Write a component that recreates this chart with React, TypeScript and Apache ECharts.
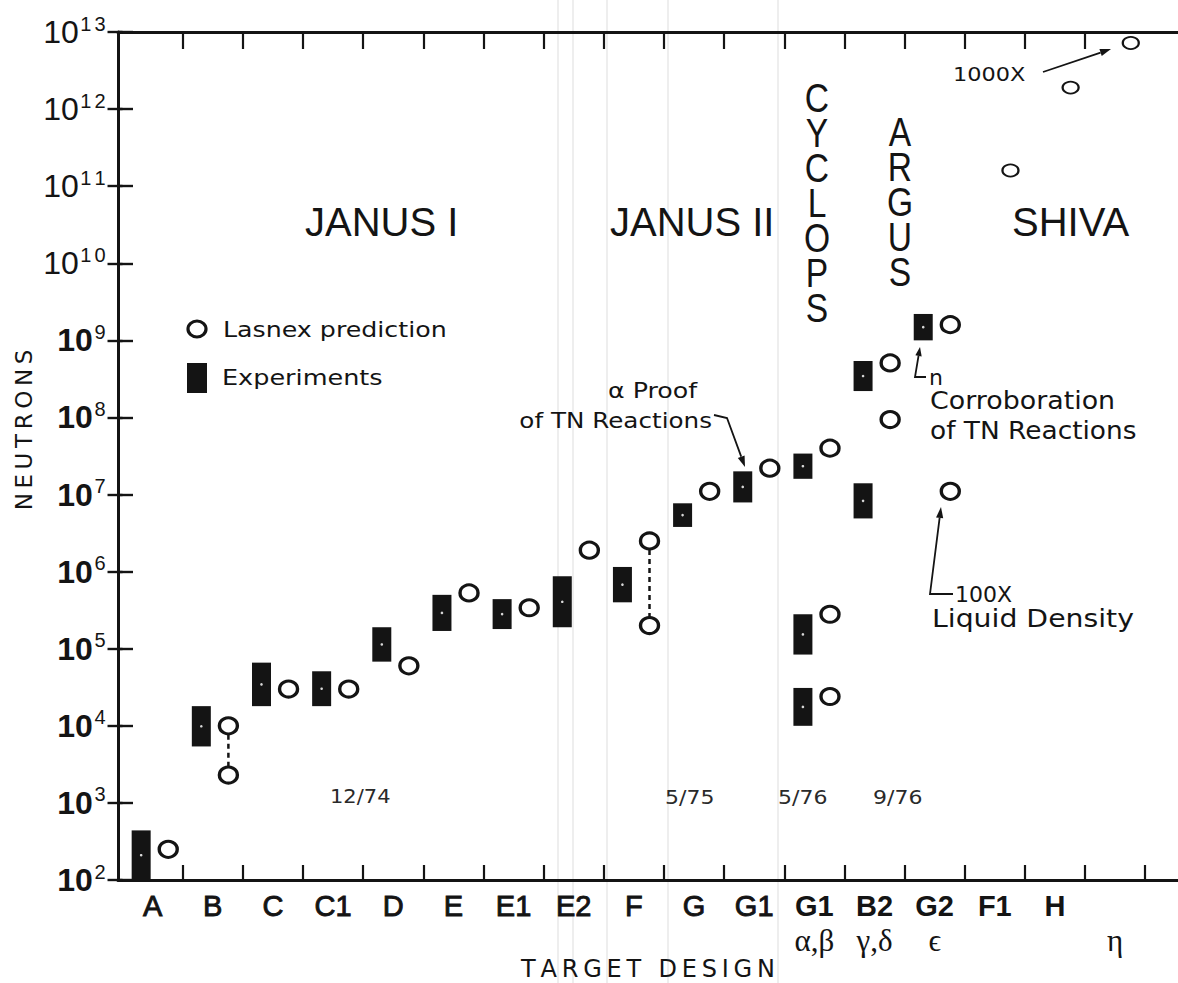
import React, { useEffect, useRef } from 'react';
import * as echarts from 'echarts';

// Target designs along the horizontal axis (one slot each)
const categories = ['A', 'B', 'C', 'C1', 'D', 'E', 'E1', 'E2', 'F', 'G', 'G1', 'G1', 'B2', 'G2', 'F1', 'H', ''];
const subLabels = ['', '', '', '', '', '', '', '', '', '', '', 'α,β', 'γ,δ', 'ϵ', '', '', 'η'];
const heavyLabelFrom = 11;

// Decades of the neutron-yield axis
const decades = [1e2, 1e3, 1e4, 1e5, 1e6, 1e7, 1e8, 1e9, 1e10, 1e11, 1e12, 1e13];

// Experiments: measured yield range per shot series
const expCategory = [0, 1, 2, 3, 4, 5, 6, 7, 8, 9, 10, 11, 11, 11, 12, 12, 13];
const expLow = [100, 5.4e3, 1.8e4, 1.8e4, 6.8e4, 1.7e5, 1.8e5, 1.9e5, 4.0e5, 3.8e6, 7.9e6, 1.6e7, 8.4e4, 1.0e4, 2.2e8, 4.9e6, 1.0e9];
const expHigh = [440, 1.8e4, 6.6e4, 5.1e4, 1.9e5, 5.0e5, 4.4e5, 8.7e5, 1.15e6, 7.7e6, 2.0e7, 3.4e7, 2.8e5, 3.1e4, 5.4e8, 1.4e7, 2.2e9];

// Lasnex predictions
const predCategory = [0, 1, 1, 2, 3, 4, 5, 6, 7, 8, 8, 9, 10, 11, 11, 11, 12, 12, 13, 13, 14, 15, 16];
const predValue = [250, 1.0e4, 2.3e3, 3.0e4, 3.0e4, 6.0e4, 5.3e5, 3.4e5, 1.9e6, 2.5e6, 2.0e5, 1.1e7, 2.2e7, 4.0e7, 2.8e5, 2.4e4, 5.1e8, 9.4e7, 1.6e9, 1.1e7, 1.6e11, 1.9e12, 7.2e12];
// Prediction pairs joined by a dashed bracket (indices into the prediction arrays)
const predPairs = [[1, 2], [9, 10]];
// Shiva designs are drawn with smaller rings
const shivaFrom = 14;

// Annotation texts
const laserNames = ['JANUS I', 'JANUS II', 'SHIVA'];
const verticalNames = ['CYCLOPS', 'ARGUS'];
const dateLabels = ['12/74', '5/75', '5/76', '9/76'];

const INK = '#141414';
const X_MIN = -0.075;
const X_MAX = 17.545;
const EXP_OFFSET = 0.31;
const PRED_OFFSET = 0.76;

const boundaries = Array.from({ length: 17 }, (_, i) => i + 1);
const centers = categories.map((_, i) => i + 0.5);

const spaced = (s: string) => s.split('').join('\u2009');

const txt = (text: string, x: number, y: number, o: any = {}) => ({
  type: 'text',
  x,
  y,
  rotation: o.rotation || 0,
  scaleX: o.scaleX || 1,
  scaleY: o.scaleY || 1,
  z: 20,
  style: {
    text,
    fill: o.color || INK,
    fontFamily: o.family || 'DejaVu Sans',
    fontSize: o.size || 22,
    fontWeight: o.weight || 'normal',
    lineHeight: o.lineHeight || Math.round((o.size || 22) * 1.05),
    align: o.align || 'left',
    textAlign: o.align || 'left',
    verticalAlign: o.valign || 'middle',
    textVerticalAlign: o.valign || 'middle',
  },
});

const arrow = (pts: number[][], head = 11, half = 3.6) => {
  const [x1, y1] = pts[pts.length - 2];
  const [x2, y2] = pts[pts.length - 1];
  const len = Math.hypot(x2 - x1, y2 - y1);
  const ux = (x2 - x1) / len;
  const uy = (y2 - y1) / len;
  const bx = x2 - ux * head;
  const by = y2 - uy * head;
  return [
    {
      type: 'polyline',
      z: 20,
      shape: { points: [...pts.slice(0, -1), [bx, by]] },
      style: { stroke: INK, lineWidth: 1.8, fill: 'none' },
    },
    {
      type: 'polygon',
      z: 20,
      shape: { points: [[x2, y2], [bx - uy * half, by + ux * half], [bx + uy * half, by - ux * half]] },
      style: { fill: INK },
    },
  ];
};

function buildOption() {
  const yLabel = (v: number) => {
    const e = Math.round(Math.log10(v));
    const base = e >= 10 ? 'b' : 'bb';
    return `{${base}|10}` + String(e).split('').map((d) => `{s|${d}}`).join('');
  };
  const xLabel = (v: number) => {
    const i = Math.round(v - 0.5);
    const main = i >= heavyLabelFrom ? 'mb' : 'm';
    return `{${main}|${categories[i] || ' '}}\n{g|${subLabels[i] || ' '}}`;
  };

  const mainPred = predCategory
    .map((c, i) => [c + PRED_OFFSET, predValue[i], c])
    .filter((d) => d[2] < shivaFrom)
    .map((d) => [d[0], d[1]]);
  const shivaPred = predCategory
    .map((c, i) => [c + PRED_OFFSET, predValue[i], c])
    .filter((d) => d[2] >= shivaFrom)
    .map((d) => [d[0], d[1]]);

  // laser names written as vertical letter stacks (tall, tightly set capitals)
  const stacked = { family: 'Liberation Sans', size: 30, align: 'center', lineHeight: 30, scaleX: 1.12, scaleY: 1.33 };
  const cyclopsTop = 98;
  const argusTop = 132;
  const pitch = 35;

  const graphic: any[] = [
    // faint scanner streaks
    ...[558, 573, 607, 668, 778].map((x) => ({
      type: 'line',
      z: 0,
      silent: true,
      shape: { x1: x, y1: 0, x2: x, y2: 983 },
      style: { stroke: '#e3e3e3', lineWidth: 1.2 },
    })),
    txt(laserNames[0], 305, 222, { family: 'Liberation Sans', size: 40 }),
    txt(laserNames[1], 610, 222, { family: 'Liberation Sans', size: 40 }),
    txt(laserNames[2], 1012, 222, { family: 'Liberation Sans', size: 40 }),
    ...verticalNames[0].split('').map((ch, i) => txt(ch, 817, cyclopsTop + i * pitch, stacked)),
    ...verticalNames[1].split('').map((ch, i) => txt(ch, 900, argusTop + i * pitch, stacked)),
    // legend
    {
      type: 'ellipse',
      z: 20,
      shape: { cx: 197, cy: 329, rx: 9, ry: 8 },
      style: { fill: '#fff', stroke: INK, lineWidth: 3.2 },
    },
    txt('Lasnex prediction', 223, 330, { scaleX: 1.15 }),
    { type: 'rect', z: 20, shape: { x: 187, y: 363, width: 20, height: 30 }, style: { fill: INK } },
    txt('Experiments', 222, 378, { scaleX: 1.16 }),
    // annotations
    txt('α Proof', 608, 391, { scaleX: 1.15 }),
    txt('of TN Reactions', 712, 420, { scaleX: 1.12, align: 'right' }),
    ...arrow([[714, 415], [727, 418], [745, 467]]),
    txt('n', 929, 377),
    ...arrow([[926, 377], [915, 377], [920, 347]], 9, 3.2),
    txt('Corroboration', 930, 401, { size: 24, scaleX: 1.12 }),
    txt('of TN Reactions', 930, 431, { size: 24, scaleX: 1.1 }),
    txt('100X', 955, 594, { size: 22 }),
    txt('Liquid Density', 932, 619, { size: 24, scaleX: 1.18 }),
    ...arrow([[953, 594], [930, 594], [941, 507]]),
    txt('1000X', 953, 74, { size: 20, scaleX: 1.12 }),
    ...arrow([[1043, 72], [1111, 49]]),
    txt(dateLabels[0], 330, 796, { size: 20, scaleX: 1.05, color: '#2a2a2a' }),
    txt(dateLabels[1], 665, 797, { size: 20, scaleX: 1.1, color: '#2a2a2a' }),
    txt(dateLabels[2], 778, 797, { size: 20, scaleX: 1.1, color: '#2a2a2a' }),
    txt(dateLabels[3], 873, 797, { size: 20, scaleX: 1.1, color: '#2a2a2a' }),
    // axis titles
    txt(spaced('NEUTRONS'), 24, 430, { size: 23, align: 'center', rotation: Math.PI / 2 }),
    txt(spaced('TARGET') + ' \u2009\u2009' + spaced('DESIGN'), 648, 969, { size: 24, align: 'center', lineHeight: 22 }),
  ];

  const axisLine = { show: true, onZero: false, lineStyle: { color: INK, width: 3 } };
  const heavy = { textBorderColor: INK, textBorderWidth: 0.9 };

  return {
    animation: false,
    backgroundColor: '#ffffff',
    grid: { left: 118, top: 32, width: 1060, height: 848, containLabel: false, outerBoundsMode: 'none' },
    xAxis: [
      {
        type: 'value',
        position: 'bottom',
        min: X_MIN,
        max: X_MAX,
        axisLine,
        splitLine: { show: false },
        axisTick: { show: true, inside: true, length: 15, customValues: boundaries, lineStyle: { color: INK, width: 2.2 } },
        axisLabel: {
          show: true,
          customValues: centers,
          margin: 9,
          formatter: xLabel,
          rich: {
            m: { fontFamily: 'Liberation Sans', fontSize: 29, color: INK, lineHeight: 34, ...heavy },
            mb: { fontFamily: 'Liberation Sans', fontSize: 29, fontWeight: 'bold', color: INK, lineHeight: 34 },
            g: { fontFamily: 'Liberation Serif, DejaVu Serif', fontSize: 31, color: INK, lineHeight: 34 },
          },
        },
      },
      {
        type: 'value',
        position: 'top',
        min: X_MIN,
        max: X_MAX,
        axisLine,
        splitLine: { show: false },
        axisTick: { show: true, inside: true, length: 17, customValues: boundaries.slice(0, 16), lineStyle: { color: INK, width: 2.2 } },
        axisLabel: { show: false },
      },
    ],
    yAxis: [
      {
        type: 'log',
        logBase: 10,
        position: 'left',
        min: 1e2,
        max: 1e13,
        axisLine,
        splitLine: { show: false },
        minorTick: { show: false },
        axisTick: { show: true, inside: true, length: 15, customValues: decades, lineStyle: { color: INK, width: 2.4 } },
        axisLabel: {
          show: true,
          customValues: decades,
          margin: 11,
          formatter: yLabel,
          rich: {
            b: { fontFamily: 'Liberation Sans', fontSize: 32, color: INK },
            bb: { fontFamily: 'Liberation Sans', fontSize: 32, fontWeight: 'bold', color: INK },
            s: { fontFamily: 'Liberation Sans', fontSize: 20, color: INK, padding: [0, 1.5, 17, 1.5] },
          },
        },
      },
      {
        type: 'log',
        logBase: 10,
        position: 'right',
        min: 1e2,
        max: 1e13,
        axisLine: { show: false },
        splitLine: { show: false },
        minorTick: { show: false },
        axisTick: { show: true, inside: true, length: 15, customValues: decades, lineStyle: { color: INK, width: 2.4 } },
        axisLabel: { show: false },
      },
    ],
    series: [
      ...predPairs.map(([a, b]) => ({
        type: 'line',
        xAxisIndex: 0,
        yAxisIndex: 0,
        z: 2,
        symbol: 'none',
        silent: true,
        data: [
          [predCategory[a] + PRED_OFFSET, predValue[a]],
          [predCategory[b] + PRED_OFFSET, predValue[b]],
        ],
        lineStyle: { color: INK, width: 2.5, type: [5, 4] },
      })),
      {
        type: 'custom',
        name: 'Experiments',
        xAxisIndex: 0,
        yAxisIndex: 0,
        z: 3,
        clip: true,
        data: expCategory.map((c, i) => [c + EXP_OFFSET, expLow[i], expHigh[i]]),
        encode: { x: 0, y: [1, 2] },
        renderItem: (_params: any, api: any) => {
          const x = api.value(0);
          const top = api.coord([x, api.value(2)]);
          const bot = api.coord([x, api.value(1)]);
          const w = 19;
          return {
            type: 'group',
            children: [
              { type: 'rect', shape: { x: top[0] - w / 2, y: top[1], width: w, height: bot[1] - top[1] }, style: { fill: INK } },
              { type: 'circle', shape: { cx: top[0], cy: (top[1] + bot[1]) / 2, r: 1.3 }, style: { fill: '#d8d8d8' } },
            ],
          };
        },
      },
      {
        type: 'scatter',
        name: 'Lasnex prediction',
        xAxisIndex: 0,
        yAxisIndex: 0,
        z: 4,
        symbol: 'circle',
        symbolSize: [18, 16],
        itemStyle: { color: '#ffffff', borderColor: INK, borderWidth: 3.2, opacity: 1 },
        data: mainPred,
      },
      {
        type: 'scatter',
        name: 'Lasnex prediction (Shiva)',
        xAxisIndex: 0,
        yAxisIndex: 0,
        z: 4,
        symbol: 'circle',
        symbolSize: [16, 12],
        itemStyle: { color: '#ffffff', borderColor: INK, borderWidth: 2, opacity: 1 },
        data: shivaPred,
      },
    ],
    graphic,
  };
}

export default function App() {
  const ref = useRef<HTMLDivElement>(null);
  useEffect(() => {
    if (!ref.current) return;
    const chart = echarts.init(ref.current, undefined, { renderer: 'svg' });
    chart.setOption(buildOption() as any);
    return () => chart.dispose();
  }, []);
  return (
    <div
      ref={ref}
      style={{ position: 'fixed', left: 0, top: 0, width: 1178, height: 983, background: '#fff' }}
    />
  );
}
